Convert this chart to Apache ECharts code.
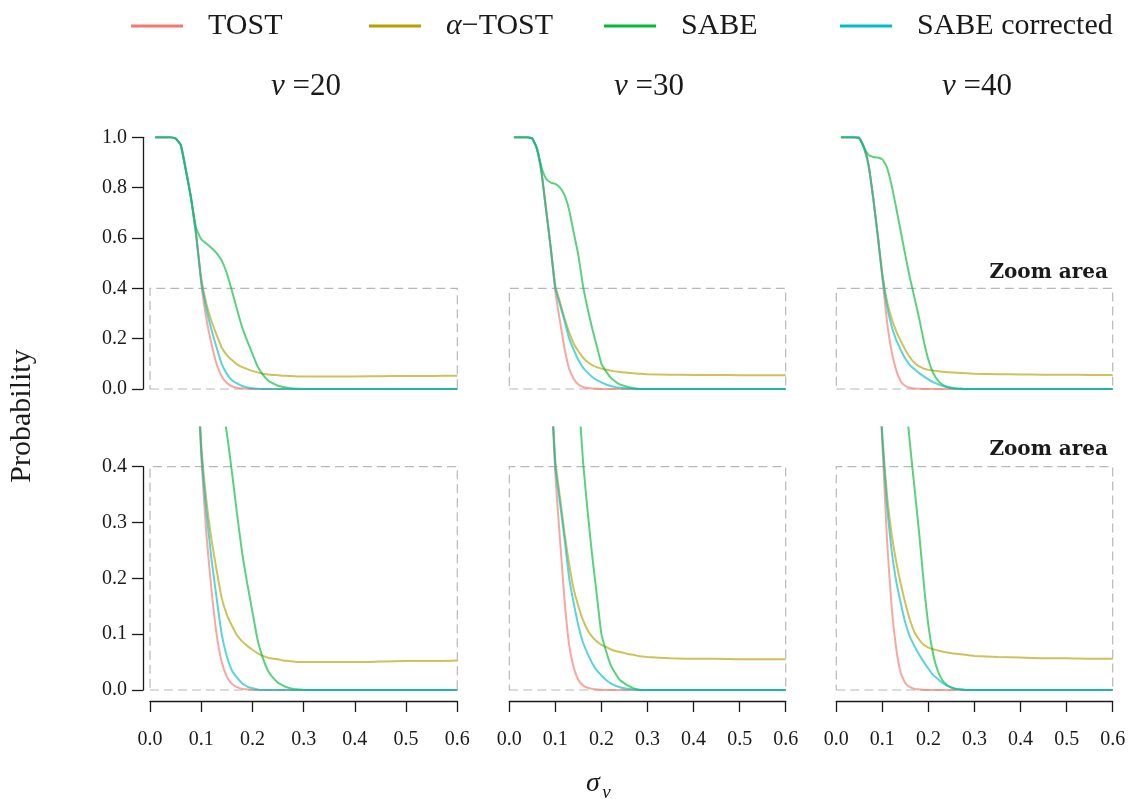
<!DOCTYPE html>
<html><head><meta charset="utf-8">
<script src="https://cdn.jsdelivr.net/npm/echarts@6/dist/echarts.min.js"></script>
<style>html,body{margin:0;padding:0;background:#fff}#c{width:1128px;height:799px}</style>
</head><body><div id="c"></div>
<script>
// ---- data ----
const sigma = [0.01,0.02,0.03,0.04,0.05,0.06,0.07,0.08,0.09,0.10,
  0.11,0.12,0.13,0.14,0.15,0.16,0.17,0.18,0.19,0.20,
  0.21,0.22,0.23,0.24,0.25,0.26,0.27,0.28,0.29,0.30,
  0.35,0.40,0.45,0.50,0.55,0.60];
const panelTitles = ['20','30','40'];
const seriesNames = ['TOST','α−TOST','SABE','SABE corrected'];
const xTicks = [0,0.1,0.2,0.3,0.4,0.5,0.6];

const tost20  = [1,1,1,1,0.995,0.97,0.87,0.76,0.615,0.42, 0.28,0.18,0.10,0.05,0.024,0.011,0.005,0.002,0.001,0, 0,0,0,0,0,0,0,0,0,0, 0,0,0,0,0,0];
const atost20 = [1,1,1,1,0.995,0.97,0.87,0.76,0.615,0.44, 0.34,0.27,0.215,0.165,0.135,0.115,0.098,0.087,0.079,0.072, 0.066,0.061,0.058,0.056,0.055,0.053,0.052,0.051,0.050,0.050, 0.050,0.050,0.051,0.052,0.052,0.053];
const sabe20  = [1,1,1,1,0.995,0.97,0.87,0.76,0.64,0.595, 0.578,0.56,0.54,0.51,0.46,0.39,0.315,0.245,0.19,0.14, 0.09,0.058,0.035,0.022,0.013,0.008,0.004,0.002,0.001,0, 0,0,0,0,0,0];
const sabec20 = [1,1,1,1,0.995,0.97,0.87,0.76,0.615,0.43, 0.32,0.235,0.165,0.10,0.06,0.035,0.022,0.012,0.006,0.003, 0.001,0,0,0,0,0,0,0,0,0, 0,0,0,0,0,0];

const tost30  = [1,1,1,1,0.995,0.955,0.86,0.71,0.56,0.385, 0.27,0.16,0.08,0.04,0.018,0.008,0.004,0.002,0.001,0, 0,0,0,0,0,0,0,0,0,0, 0,0,0,0,0,0];
const atost30 = [1,1,1,1,0.995,0.955,0.86,0.71,0.56,0.41, 0.345,0.28,0.225,0.18,0.15,0.125,0.107,0.095,0.087,0.081, 0.077,0.073,0.070,0.068,0.066,0.064,0.063,0.061,0.060,0.059, 0.057,0.056,0.056,0.055,0.055,0.055];
const sabe30  = [1,1,1,1,0.995,0.955,0.88,0.835,0.82,0.815, 0.80,0.77,0.71,0.62,0.53,0.41,0.32,0.24,0.17,0.10, 0.07,0.045,0.03,0.018,0.012,0.007,0.003,0.001,0,0, 0,0,0,0,0,0];
const sabec30 = [1,1,1,1,0.995,0.955,0.86,0.71,0.56,0.40, 0.335,0.27,0.20,0.155,0.115,0.085,0.065,0.048,0.035,0.026, 0.018,0.012,0.008,0.005,0.003,0.002,0.001,0,0,0, 0,0,0,0,0,0];

const tost40  = [1,1,1,1,0.997,0.96,0.89,0.76,0.61,0.44, 0.27,0.15,0.075,0.03,0.012,0.005,0.002,0.001,0,0, 0,0,0,0,0,0,0,0,0,0, 0,0,0,0,0,0];
const atost40 = [1,1,1,1,0.997,0.96,0.89,0.76,0.61,0.455, 0.35,0.28,0.23,0.19,0.155,0.125,0.103,0.09,0.081,0.076, 0.073,0.071,0.069,0.067,0.066,0.065,0.064,0.063,0.062,0.061, 0.059,0.058,0.057,0.057,0.056,0.056];
const sabe40  = [1,1,1,1,0.997,0.96,0.93,0.922,0.92,0.912, 0.88,0.81,0.72,0.625,0.53,0.44,0.36,0.28,0.19,0.115, 0.065,0.035,0.018,0.009,0.004,0.002,0.001,0,0,0, 0,0,0,0,0,0];
const sabec40 = [1,1,1,1,0.997,0.96,0.89,0.76,0.61,0.45, 0.33,0.25,0.195,0.155,0.12,0.095,0.078,0.063,0.05,0.038, 0.027,0.02,0.013,0.008,0.005,0.002,0.001,0,0,0, 0,0,0,0,0,0];

const panels = [[tost20,atost20,sabe20,sabec20],[tost30,atost30,sabe30,sabec30],[tost40,atost40,sabe40,sabec40]];

// ---- styling ----
const colors = ['#F8766D','#B79F00','#00BA38','#00BFC4'];
const FONT = '"Liberation Serif", "DejaVu Serif", serif';
const INK = '#1a1a1a';
const cols = [{left:150,width:307.3},{left:509.3,width:276.4},{left:836.3,width:276.4}];
const TOP = {top:137.3,height:251.7};
const BOT = {top:427.6,height:262.4};

const grid=[], xAxis=[], yAxis=[], series=[];
const axisLineStyle = {color:INK,width:1.3};
const fmt = v => v.toFixed(1);

for (let r=0;r<2;r++){
  for (let c=0;c<3;c++){
    const g = r*3+c;
    const row = r===0?TOP:BOT;
    grid.push({left:cols[c].left,width:cols[c].width,top:row.top,height:row.height,outerBoundsMode:'none'});
    if (r===0){
      xAxis.push({gridIndex:g,type:'value',min:0,max:0.6,interval:0.1,show:false});
    } else {
      xAxis.push({gridIndex:g,type:'value',min:0,max:0.6,interval:0.1,offset:11,
        axisLine:{show:true,onZero:false,lineStyle:axisLineStyle},
        axisTick:{show:true,length:11,lineStyle:axisLineStyle},
        axisLabel:{margin:29,formatter:fmt,fontFamily:FONT,fontSize:20,color:INK},
        splitLine:{show:false}});
    }
    if (r===0 && c===0){
      yAxis.push({gridIndex:g,type:'value',min:0,max:1,interval:0.2,offset:7,
        axisLine:{show:true,onZero:false,lineStyle:axisLineStyle},
        axisTick:{show:true,length:11,lineStyle:axisLineStyle},
        axisLabel:{margin:16,formatter:fmt,fontFamily:FONT,fontSize:20,color:INK},
        splitLine:{show:false}});
    } else {
      yAxis.push({gridIndex:g,type:'value',min:0,max:r===0?1:0.47,show:false,splitLine:{show:false}});
    }
    const arrs = panels[c];
    for (let s=0;s<4;s++){
      const ser = {
        name:seriesNames[s],type:'line',xAxisIndex:g,yAxisIndex:g,
        data:sigma.map((x,i)=>[x,arrs[s][i]]),
        symbol:'none',showSymbol:false,smooth:0.15,
        lineStyle:{color:colors[s],width:2,opacity:0.65},
        itemStyle:{color:colors[s]},
        animation:false,silent:true
      };
      if (s===0){
        ser.markArea = {silent:true,
          itemStyle:{color:'rgba(0,0,0,0)',borderColor:'#b8b8b8',borderWidth:1.2,borderType:[9,5]},
          data:[[{coord:[0,0]},{coord:[0.6,0.4]}]]};
      }
      series.push(ser);
    }
  }
}
// axis-only grid for bottom-left y axis (trimmed to 0..0.4)
grid.push({left:150,width:307.3,top:466.7,height:223.3,outerBoundsMode:'none'});
xAxis.push({gridIndex:6,type:'value',min:0,max:0.6,show:false});
yAxis.push({gridIndex:6,type:'value',min:0,max:0.4,interval:0.1,offset:7,
  axisLine:{show:true,onZero:false,lineStyle:axisLineStyle},
  axisTick:{show:true,length:11,lineStyle:axisLineStyle},
  axisLabel:{margin:16,formatter:fmt,fontFamily:FONT,fontSize:20,color:INK},
  splitLine:{show:false}});

const legendLefts = [131,369,604,840];
const legend = seriesNames.map((n,i)=>({
  data:[n],left:legendLefts[i],top:11,padding:0,itemWidth:52,itemHeight:3,icon:'rect',
  selectedMode:false,
  formatter: name => name==='α−TOST' ? '{i|α}−TOST' : name,
  textStyle:{fontFamily:FONT,fontSize:30,color:INK,padding:[0,0,0,20],
    rich:{i:{fontFamily:FONT,fontSize:30,fontStyle:'italic',color:INK}}}
}));

const titleX = [306,649,977];
const graphic = [];
panelTitles.forEach((t,i)=>{
  graphic.push({type:'text',x:titleX[i],y:87,style:{
    text:'{i|ν} ={n|'+t+'}',align:'center',verticalAlign:'middle',
    rich:{i:{fontFamily:FONT,fontSize:31,fontStyle:'italic',fill:INK},n:{fontFamily:FONT,fontSize:31,fill:INK}},
    font:'31px '+FONT,fill:INK}});
});
graphic.push({type:'text',x:22,y:416,rotation:Math.PI/2,style:{text:'Probability',align:'center',verticalAlign:'middle',font:'30px '+FONT,fill:INK}});
graphic.push({type:'text',x:593,y:784,style:{text:'σ',align:'center',verticalAlign:'middle',font:'italic 28px '+FONT,fill:INK}});
graphic.push({type:'text',x:606.5,y:793,style:{text:'ν',align:'center',verticalAlign:'middle',font:'italic 19px '+FONT,fill:INK}});
[273,450].forEach(y=>{
  graphic.push({type:'text',x:1108,y:y,style:{text:'Zoom area',align:'right',verticalAlign:'middle',font:'bold 20px "DejaVu Serif", serif',fill:INK}});
});

const chart = echarts.init(document.getElementById('c'),null,{renderer:'canvas'});
chart.setOption({animation:false,backgroundColor:'#fff',grid,xAxis,yAxis,series,legend,graphic});
</script></body></html>
